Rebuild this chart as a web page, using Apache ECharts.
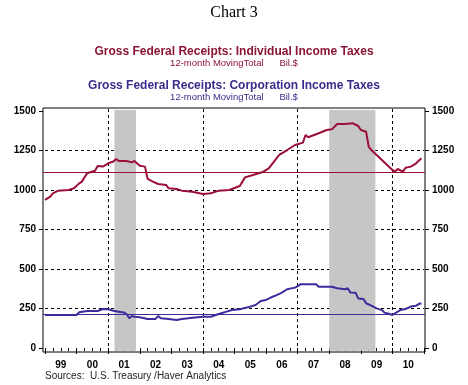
<!DOCTYPE html>
<html>
<head>
<meta charset="utf-8">
<script src="https://cdn.jsdelivr.net/npm/echarts@6/dist/echarts.min.js"></script>
<style>
html,body{margin:0;padding:0;background:#fff;}
#chart{width:468px;height:385px;}
</style>
</head>
<body>
<div id="chart"></div>
<script>
// ---- data ----
const yearLabels = ['99','00','01','02','03','04','05','06','07','08','09','10'];

const indivDates = ['1999-01','1999-03','1999-04','1999-06','1999-10','1999-12','2000-02','2000-03','2000-05','2000-08','2000-09','2000-11',
  '2001-01','2001-03','2001-04','2001-05','2001-08','2001-10','2001-11','2002-01','2002-03','2002-04','2002-06','2002-08','2002-11','2002-12',
  '2003-03','2003-05','2003-09','2004-01','2004-04','2004-07','2004-11','2005-03','2005-05','2005-08','2005-12','2006-02','2006-04','2006-06',
  '2006-09','2006-12','2007-03','2007-04','2007-05','2007-09','2007-12','2008-02','2008-04','2008-07','2008-10','2008-12','2009-01','2009-03',
  '2009-04','2009-05','2009-07','2009-09','2009-11','2010-01','2010-02','2010-03','2010-05','2010-06','2010-08','2010-10','2010-12'];
const indivValues = [937,958,979,996,1000,1011,1042,1053,1106,1122,1152,1148,
  1169,1180,1196,1184,1184,1175,1184,1154,1148,1070,1053,1038,1032,1011,
  1006,996,989,975,979,996,1000,1025,1080,1095,1116,1137,1180,1222,
  1253,1285,1300,1348,1334,1359,1380,1384,1418,1418,1422,1405,1380,1369,
  1274,1253,1222,1190,1158,1127,1116,1133,1116,1141,1148,1169,1201];

const corpDates = ['1999-01','2000-01','2000-02','2000-05','2000-09','2000-11','2001-01','2001-03','2001-05','2001-07','2001-08','2001-09',
  '2001-10','2001-11','2002-01','2002-04','2002-07','2002-08','2002-09','2002-12','2003-03','2003-05','2003-09','2004-01','2004-04','2004-07',
  '2004-10','2004-12','2005-03','2005-07','2005-09','2005-11','2006-01','2006-03','2006-05','2006-07','2006-09','2006-12','2007-01','2007-02',
  '2007-08','2007-09','2008-02','2008-04','2008-07','2008-08','2008-09','2008-11','2008-12','2009-02','2009-03','2009-05','2009-07','2009-09',
  '2009-10','2009-12','2010-01','2010-02','2010-04','2010-06','2010-08','2010-10','2010-11','2010-12'];
const corpValues = [209,209,226,234,234,247,245,236,230,224,215,188,
  203,198,194,184,184,203,188,184,177,184,192,198,198,215,
  230,240,245,262,272,297,304,321,335,350,372,382,392,403,
  403,388,388,378,372,378,352,350,314,310,283,268,251,240,
  224,215,209,220,240,247,262,268,278,283];

const avgIndividual = 1112;
const avgCorporate = 213;
const recessions = [[2001.2, 2001.88], [2008.0, 2009.46]];
const verticalGridYears = [2001, 2004, 2007, 2010];

// ---- layout ----
const W = 468, H = 385;
const B = {left:45, right:44, top:111, bottom:37};   // tick/label grid
const A = {left:43, right:43, top:108, bottom:33};   // frame/data grid
const xMin = 1999, xMax = 2011, yMin = 0, yMax = 1500;
const pxPerX = (W - B.left - B.right) / (xMax - xMin);
const pxPerY = (H - B.top - B.bottom) / (yMax - yMin);
const axMin = xMin - (B.left - A.left) / pxPerX;
const axMax = xMax + (B.right - A.right) / pxPerX;
const ayMin = yMin - (B.bottom - A.bottom) / pxPerY;
const ayMax = yMax + (B.top - A.top) / pxPerY;

function toYear(s){ const p = s.split('-'); return +p[0] + (+p[1]-1)/12; }
function pairs(d, v){ return d.map((s,i)=>[toYear(s), v[i]]); }

const RED = '#9b0f37', BLUE = '#3a2c9c';
const FONT = 'Arial, "Liberation Sans", sans-serif';
const plain = v => String(v);

const chart = echarts.init(document.getElementById('chart'), null, {renderer:'canvas'});
chart.setOption({
  animation: false,
  backgroundColor: '#fff',
  title: [
    {text:'Chart 3', left:'center', top:5, padding:0, textStyle:{fontFamily:'"Liberation Serif","Times New Roman",serif', fontSize:16, fontWeight:'normal', color:'#000'}},
    {text:'Gross Federal Receipts: Individual Income Taxes', left:'center', top:46, padding:0, textStyle:{fontFamily:FONT, fontSize:12, fontWeight:'bold', color:'#8c1536'}},
    {text:'12-month MovingTotal      Bil.$', left:'center', top:58.5, padding:0, textStyle:{fontFamily:FONT, fontSize:9.5, fontWeight:'normal', color:'#8c1536'}},
    {text:'Gross Federal Receipts: Corporation Income Taxes', left:'center', top:80, padding:0, textStyle:{fontFamily:FONT, fontSize:12, fontWeight:'bold', color:'#3a2c8c'}},
    {text:'12-month MovingTotal      Bil.$', left:'center', top:92.5, padding:0, textStyle:{fontFamily:FONT, fontSize:9.5, fontWeight:'normal', color:'#3a2c8c'}},
    {text:'Sources:  U.S. Treasury /Haver Analytics', left:45, top:371, padding:0, textStyle:{fontFamily:FONT, fontSize:10, fontWeight:'normal', color:'#222'}}
  ],
  grid: [
    {left:A.left, right:A.right, top:A.top, bottom:A.bottom, show:true, borderColor:'#000', borderWidth:1, backgroundColor:'transparent', z:3},
    {left:B.left, right:B.right, top:B.top, bottom:B.bottom, show:false}
  ],
  xAxis: [
    {type:'value', gridIndex:0, min:axMin, max:axMax, show:false},
    {type:'value', gridIndex:1, min:xMin, max:xMax, interval:1, offset:B.bottom-A.bottom, position:'bottom',
      axisLine:{show:false}, axisLabel:{show:false}, splitLine:{show:false},
      axisTick:{show:true, length:6, lineStyle:{color:'#000', width:1}},
      minorTick:{show:true, splitNumber:4, length:3, lineStyle:{color:'#000', width:1}}},
    {type:'category', gridIndex:1, data:yearLabels, boundaryGap:true, offset:B.bottom-A.bottom, position:'bottom',
      axisLine:{show:false}, axisTick:{show:false}, splitLine:{show:false},
      axisLabel:{show:true, margin:8, fontFamily:FONT, fontSize:10, fontWeight:'bold', color:'#000'}}
  ],
  yAxis: [
    {type:'value', gridIndex:0, min:ayMin, max:ayMax, show:false},
    {type:'value', gridIndex:1, min:yMin, max:yMax, interval:250, position:'left', offset:B.left-A.left,
      axisLine:{show:false}, axisTick:{show:true, length:4, lineStyle:{color:'#000'}},
      axisLabel:{margin:7, formatter:plain, fontFamily:FONT, fontSize:10, fontWeight:'bold', color:'#000'},
      splitLine:{show:true, showMinLine:false, showMaxLine:false, lineStyle:{color:'#000', type:[3,3], width:1}}},
    {type:'value', gridIndex:1, min:yMin, max:yMax, interval:250, position:'right', offset:B.right-A.right,
      axisLine:{show:false}, axisTick:{show:true, length:4, lineStyle:{color:'#000'}},
      axisLabel:{margin:7, formatter:plain, fontFamily:FONT, fontSize:10, fontWeight:'bold', color:'#000'},
      splitLine:{show:false}}
  ],
  series: [
    {type:'line', name:'Individual', xAxisIndex:0, yAxisIndex:0, data:pairs(indivDates, indivValues),
      showSymbol:false, symbol:'none', lineStyle:{color:RED, width:2}, itemStyle:{color:RED}, z:5, clip:false,
      markArea:{silent:true, itemStyle:{color:'#c6c6c6'}, z:1,
        data: recessions.map(r=>[{xAxis:r[0], yAxis:-18},{xAxis:r[1], yAxis:1506}])},
      markLine:{silent:true, symbol:'none', label:{show:false},
        data: [
          ...verticalGridYears.map(y=>({xAxis:y, lineStyle:{color:'#000', type:[3,3], width:1}})),
          {yAxis:avgIndividual, lineStyle:{color:RED, type:'solid', width:1}}
        ]}
    },
    {type:'line', name:'Corporation', xAxisIndex:0, yAxisIndex:0, data:pairs(corpDates, corpValues),
      showSymbol:false, symbol:'none', lineStyle:{color:BLUE, width:2}, itemStyle:{color:BLUE}, z:5, clip:false,
      markLine:{silent:true, symbol:'none', label:{show:false},
        data:[{yAxis:avgCorporate, lineStyle:{color:BLUE, type:'solid', width:1}}]}
    }
  ]
});
</script>
</body>
</html>
